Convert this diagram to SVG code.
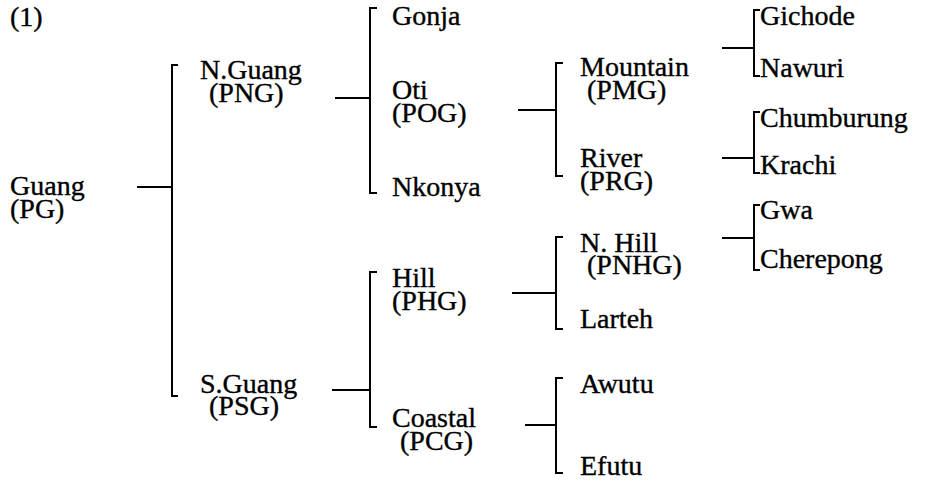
<svg xmlns="http://www.w3.org/2000/svg" width="926" height="483" viewBox="0 0 926 483">
<style>
text{font-family:"Liberation Serif","Times New Roman",serif;font-size:28px;fill:#000;stroke:#000;stroke-width:0.35}
.c{stroke:#000;stroke-width:2;fill:none}
</style>
<rect width="926" height="483" fill="#fff"/>
<text x="10" y="26">(1)</text>
<g id="connectors" class="c">
<path d="M137,187H172"/><path d="M178,65H172V396H178"/>
<path d="M335,98H370"/><path d="M377,8H370V193H377"/>
<path d="M332,390H370"/><path d="M377,272H370V427H377"/>
<path d="M518,110H556"/><path d="M563,63H556V176H563"/>
<path d="M512,293H556"/><path d="M563,237H556V329H563"/>
<path d="M525,425H556"/><path d="M563,378H556V473H563"/>
<path d="M722,48H754"/><path d="M760,10H754V76H760"/>
<path d="M722,158H754"/><path d="M760,112H754V173H760"/>
<path d="M722,238H754"/><path d="M760,205H754V270H760"/>
</g>
<g id="guang"><text x="10" y="195">Guang</text><text x="10" y="218">(PG)</text></g>
<g id="nguang"><text x="200" y="79">N.Guang</text><text x="209" y="102">(PNG)</text></g>
<g id="sguang"><text x="200" y="393">S.Guang</text><text x="209" y="415">(PSG)</text></g>
<g id="gonja"><text x="392" y="25">Gonja</text></g>
<g id="oti"><text x="392" y="99">Oti</text><text x="392" y="122">(POG)</text></g>
<g id="nkonya"><text x="392" y="196">Nkonya</text></g>
<g id="hill"><text x="392" y="287">Hill</text><text x="392" y="310">(PHG)</text></g>
<g id="coastal"><text x="392" y="427">Coastal</text><text x="400" y="450">(PCG)</text></g>
<g id="mountain"><text x="580" y="76">Mountain</text><text x="587" y="99">(PMG)</text></g>
<g id="river"><text x="580" y="167">River</text><text x="580" y="190">(PRG)</text></g>
<g id="nhill"><text x="580" y="252">N. Hill</text><text x="587" y="274">(PNHG)</text></g>
<g id="larteh"><text x="580" y="328">Larteh</text></g>
<g id="awutu"><text x="580" y="393">Awutu</text></g>
<g id="efutu"><text x="580" y="475">Efutu</text></g>
<g id="gichode"><text x="760" y="25">Gichode</text></g>
<g id="nawuri"><text x="760" y="77">Nawuri</text></g>
<g id="chumburung"><text x="760" y="127">Chumburung</text></g>
<g id="krachi"><text x="760" y="174">Krachi</text></g>
<g id="gwa"><text x="760" y="219">Gwa</text></g>
<g id="cherepong"><text x="760" y="268">Cherepong</text></g>
</svg>
